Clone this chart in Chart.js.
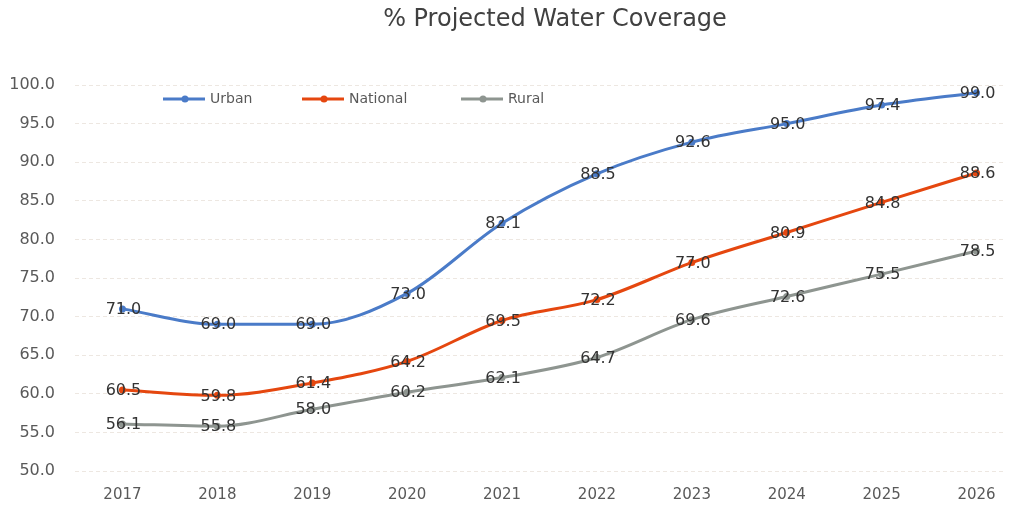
<!DOCTYPE html>
<html>
<head>
    <title>% Projected Water Coverage</title>
    <script src="https://cdn.jsdelivr.net/npm/chart.js"></script>
    <style>
        body { margin: 0; background: #fff; }
        #wrap { width: 1020px; height: 506px; }
    </style>
</head>
<body>
<div id="wrap"><canvas id="coverageChart"></canvas></div>
<script>
    const years = ['2017', '2018', '2019', '2020', '2021', '2022', '2023', '2024', '2025', '2026'];
    const urban = [71.0, 69.0, 69.0, 73.0, 82.1, 88.5, 92.6, 95.0, 97.4, 99.0];
    const national = [60.5, 59.8, 61.4, 64.2, 69.5, 72.2, 77.0, 80.9, 84.8, 88.6];
    const rural = [56.1, 55.8, 58.0, 60.2, 62.1, 64.7, 69.6, 72.6, 75.5, 78.5];
    const yTicks = [50, 55, 60, 65, 70, 75, 80, 85, 90, 95, 100];

    const FONT = "'DejaVu Sans', Verdana, sans-serif";

    function toPoints(arr) {
        return arr.map((v, i) => ({ x: i, y: v }));
    }

    function series(label, values, color) {
        return {
            label: label,
            data: toPoints(values),
            borderColor: color,
            backgroundColor: color,
            borderWidth: 3,
            pointRadius: 3.5,
            pointBorderWidth: 0,
            cubicInterpolationMode: 'monotone'
        };
    }

    // title, in-plot legend and value labels
    const decorations = {
        id: 'decorations',
        afterDatasetsDraw(chart) {
            const ctx = chart.ctx;
            const area = chart.chartArea;
            ctx.save();

            ctx.font = '24px ' + FONT;
            ctx.fillStyle = '#404040';
            ctx.textAlign = 'center';
            ctx.textBaseline = 'middle';
            ctx.fillText('% Projected Water Coverage', 555, 20);

            // value labels
            ctx.font = '16px ' + FONT;
            ctx.fillStyle = '#333';
            chart.data.datasets.forEach((ds, di) => {
                chart.getDatasetMeta(di).data.forEach((pt, i) => {
                    ctx.fillText(ds.data[i].y.toFixed(1), pt.x + 1, pt.y + 1);
                });
            });

            // legend
            const legendX = [area.left + 88, area.left + 227, area.left + 386];
            const ly = area.top + 14;
            ctx.font = '14px ' + FONT;
            ctx.textAlign = 'left';
            chart.data.datasets.forEach((ds, di) => {
                const x = legendX[di];
                ctx.strokeStyle = ds.borderColor;
                ctx.lineWidth = 3;
                ctx.beginPath();
                ctx.moveTo(x, ly);
                ctx.lineTo(x + 42, ly);
                ctx.stroke();
                ctx.fillStyle = ds.borderColor;
                ctx.beginPath();
                ctx.arc(x + 22, ly, 3.5, 0, Math.PI * 2);
                ctx.fill();
                ctx.fillStyle = '#595959';
                ctx.fillText(ds.label, x + 47, ly);
            });
            ctx.restore();
        }
    };

    new Chart(document.getElementById('coverageChart'), {
        type: 'line',
        data: {
            datasets: [
                series('Urban', urban, '#4a7bc8'),
                series('National', national, '#e5470f'),
                series('Rural', rural, '#8e9590')
            ]
        },
        options: {
            responsive: true,
            maintainAspectRatio: false,
            animation: false,
            layout: { padding: { top: 85, left: 8, right: 15, bottom: 0 } },
            plugins: {
                legend: { display: false },
                tooltip: { enabled: false }
            },
            scales: {
                x: {
                    type: 'linear',
                    min: -0.5,
                    max: 9.3,
                    afterBuildTicks(scale) {
                        scale.ticks = years.map((y, i) => ({ value: i }));
                    },
                    afterFit(scale) { scale.height = 35; },
                    ticks: {
                        callback: v => years[v],
                        font: { family: FONT, size: 15 },
                        color: '#595959',
                        padding: 15,
                        maxRotation: 0
                    },
                    grid: { display: false, drawTicks: false },
                    border: { display: false }
                },
                y: {
                    min: 50,
                    max: 100,
                    afterBuildTicks(scale) {
                        scale.ticks = yTicks.map(v => ({ value: v }));
                    },
                    afterFit(scale) { scale.width = 67; },
                    ticks: {
                        callback: v => Number(v).toFixed(1),
                        font: { family: FONT, size: 16 },
                        color: '#595959',
                        padding: 20
                    },
                    grid: {
                        color: 'rgba(225,215,205,0.6)',
                        drawTicks: false
                    },
                    border: { display: false, dash: [4, 3] }
                }
            }
        },
        plugins: [decorations]
    });
</script>
</body>
</html>
